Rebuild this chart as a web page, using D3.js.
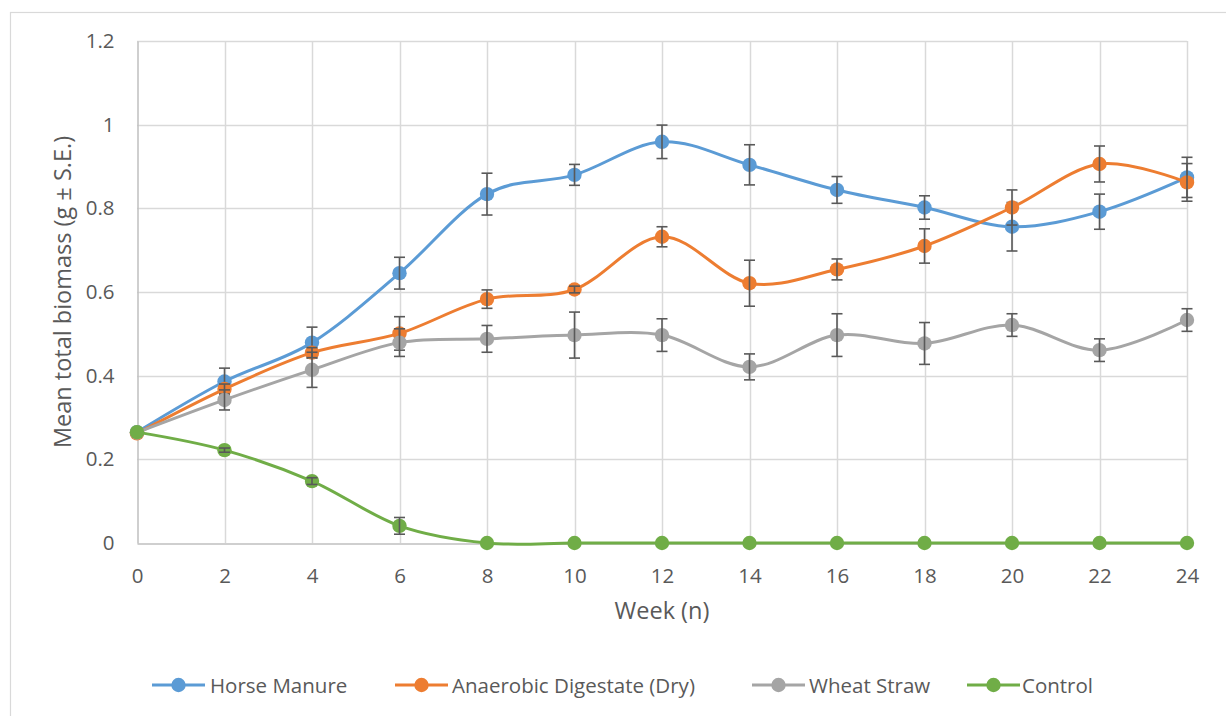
<!DOCTYPE html>
<html>
<head>
<meta charset="utf-8">
<script src="https://cdn.jsdelivr.net/npm/d3@7"></script>
<style>
  html, body { margin: 0; padding: 0; background: #fff; }
  svg { display: block; }
  text { font-family: "Open Sans", Lato, "Liberation Sans", sans-serif; fill: #595959; }
</style>
</head>
<body>
<svg id="chart" width="1226" height="716"></svg>
<script>
// Weeks sampled
const weeks = [0, 2, 4, 6, 8, 10, 12, 14, 16, 18, 20, 22, 24];

// Mean total biomass (g) per treatment
const horseManure = [0.265, 0.386, 0.479, 0.645, 0.834, 0.880, 0.959, 0.904, 0.844, 0.802, 0.756, 0.792, 0.874];
const anaerobicDigestate = [0.262, 0.368, 0.455, 0.501, 0.583, 0.606, 0.732, 0.621, 0.654, 0.710, 0.802, 0.906, 0.862];
const wheatStraw = [0.264, 0.342, 0.414, 0.479, 0.488, 0.497, 0.497, 0.421, 0.497, 0.477, 0.521, 0.461, 0.533];
const control = [0.265, 0.222, 0.148, 0.041, 0, 0, 0, 0, 0, 0, 0, 0, 0];

// Standard errors
const horseManureSE = [0, 0.032, 0.037, 0.038, 0.050, 0.025, 0.040, 0.048, 0.032, 0.028, 0.058, 0.042, 0.048];
const anaerobicDigestateSE = [0, 0.012, 0.012, 0.040, 0.022, 0.008, 0.024, 0.055, 0.025, 0.041, 0.042, 0.043, 0.045];
const wheatStrawSE = [0, 0.024, 0.042, 0.033, 0.032, 0.055, 0.039, 0.031, 0.051, 0.050, 0.027, 0.027, 0.027];
const controlSE = [0, 0.005, 0.008, 0.020, 0, 0, 0, 0, 0, 0, 0, 0, 0];

const seriesNames = ["Horse Manure", "Anaerobic Digestate (Dry)", "Wheat Straw", "Control"];
const seriesColors = ["#5B9BD5", "#ED7D31", "#A5A5A5", "#70AD47"];

const yTicks = [0, 0.2, 0.4, 0.6, 0.8, 1, 1.2];
const xTicks = weeks;

const series = [
  { name: seriesNames[0], color: seriesColors[0], values: horseManure, se: horseManureSE },
  { name: seriesNames[1], color: seriesColors[1], values: anaerobicDigestate, se: anaerobicDigestateSE },
  { name: seriesNames[2], color: seriesColors[2], values: wheatStraw, se: wheatStrawSE },
  { name: seriesNames[3], color: seriesColors[3], values: control, se: controlSE }
];

const svg = d3.select("#chart");

// outer chart frame
svg.append("rect")
  .attr("x", 10.5).attr("y", 12.5)
  .attr("width", 1240).attr("height", 720)
  .attr("fill", "#fff").attr("stroke", "#D9D9D9").attr("stroke-width", 1.2);

const plot = { left: 137, right: 1187, top: 41, bottom: 543 };

const x = d3.scaleLinear().domain([0, 24]).range([plot.left, plot.right]);
const y = d3.scaleLinear().domain([0, 1.2]).range([plot.bottom, plot.top]);

// gridlines
const grid = svg.append("g");
grid.selectAll(".hg").data(yTicks.slice(1)).enter().append("line")
  .attr("x1", plot.left).attr("x2", plot.right)
  .attr("y1", d => Math.round(y(d)) + 0.5).attr("y2", d => Math.round(y(d)) + 0.5)
  .attr("stroke", "#D9D9D9").attr("stroke-width", 1.5);
grid.selectAll(".vg").data(xTicks.slice(1)).enter().append("line")
  .attr("y1", plot.top).attr("y2", plot.bottom)
  .attr("x1", d => Math.round(x(d)) + 0.5).attr("x2", d => Math.round(x(d)) + 0.5)
  .attr("stroke", "#D9D9D9").attr("stroke-width", 1.5);

// axes
const xAxis = d3.axisBottom(x).tickValues(xTicks).tickSize(0).tickPadding(25).tickFormat(d3.format("d"));
const yAxis = d3.axisLeft(y).tickValues(yTicks).tickSize(0).tickPadding(23).tickFormat(d => d3.format("")(+d.toFixed(1)));

const gx = svg.append("g").attr("transform", `translate(0,${plot.bottom + 0.5})`).call(xAxis);
gx.select(".domain").attr("stroke", "#BFBFBF").attr("stroke-width", 1.5);
gx.selectAll("text").attr("font-size", 20.5).attr("fill", "#595959");

const gy = svg.append("g").attr("transform", `translate(${plot.left + 0.5},0)`).call(yAxis);
gy.select(".domain").attr("stroke", "#BFBFBF").attr("stroke-width", 1.5);
gy.selectAll("text").attr("font-size", 20.5).attr("fill", "#595959");

// axis titles
svg.append("text")
  .attr("x", (plot.left + plot.right) / 2).attr("y", 619)
  .attr("text-anchor", "middle").attr("font-size", 23.5)
  .text("Week (n)");
svg.append("text")
  .attr("transform", `translate(71,${(plot.top + plot.bottom) / 2}) rotate(-90)`)
  .attr("text-anchor", "middle").attr("font-size", 23.5)
  .text("Mean total biomass (g ± S.E.)");

// smoothed lines
const line = d3.line()
  .x(d => x(d.w))
  .y(d => y(d.v))
  .curve(d3.curveCardinal.tension(0));

const layers = svg.append("g");
series.forEach(s => {
  const pts = weeks.map((w, i) => ({ w, v: s.values[i], e: s.se[i] }));
  const g = layers.append("g");
  g.append("path").datum(pts)
    .attr("d", line)
    .attr("fill", "none").attr("stroke", s.color).attr("stroke-width", 3)
    .attr("stroke-linecap", "round");
  g.selectAll("circle").data(pts).enter().append("circle")
    .attr("cx", d => x(d.w)).attr("cy", d => y(d.v))
    .attr("r", 7.2).attr("fill", s.color);
  // error bars
  const eb = g.selectAll(".eb").data(pts.filter(d => d.e > 0)).enter().append("g");
  eb.append("line")
    .attr("x1", d => x(d.w)).attr("x2", d => x(d.w))
    .attr("y1", d => y(d.v + d.e)).attr("y2", d => y(d.v - d.e))
    .attr("stroke", "#595959").attr("stroke-width", 1.6);
  [1, -1].forEach(sign => {
    eb.append("line")
      .attr("x1", d => x(d.w) - 5.5).attr("x2", d => x(d.w) + 5.5)
      .attr("y1", d => y(d.v + sign * d.e)).attr("y2", d => y(d.v + sign * d.e))
      .attr("stroke", "#595959").attr("stroke-width", 1.6);
  });
});

// legend
const legendItems = [
  { x: 152, textX: 210 },
  { x: 395, textX: 452 },
  { x: 752, textX: 809 },
  { x: 967, textX: 1022 }
];
const legendY = 685;
const lg = svg.append("g");
series.forEach((s, i) => {
  const it = legendItems[i];
  lg.append("line")
    .attr("x1", it.x).attr("x2", it.x + 53)
    .attr("y1", legendY).attr("y2", legendY)
    .attr("stroke", s.color).attr("stroke-width", 3);
  lg.append("circle")
    .attr("cx", it.x + 26.5).attr("cy", legendY).attr("r", 7.2).attr("fill", s.color);
  lg.append("text")
    .attr("x", it.textX).attr("y", legendY + 7.5)
    .attr("font-size", 20.5)
    .text(s.name);
});
</script>
</body>
</html>
